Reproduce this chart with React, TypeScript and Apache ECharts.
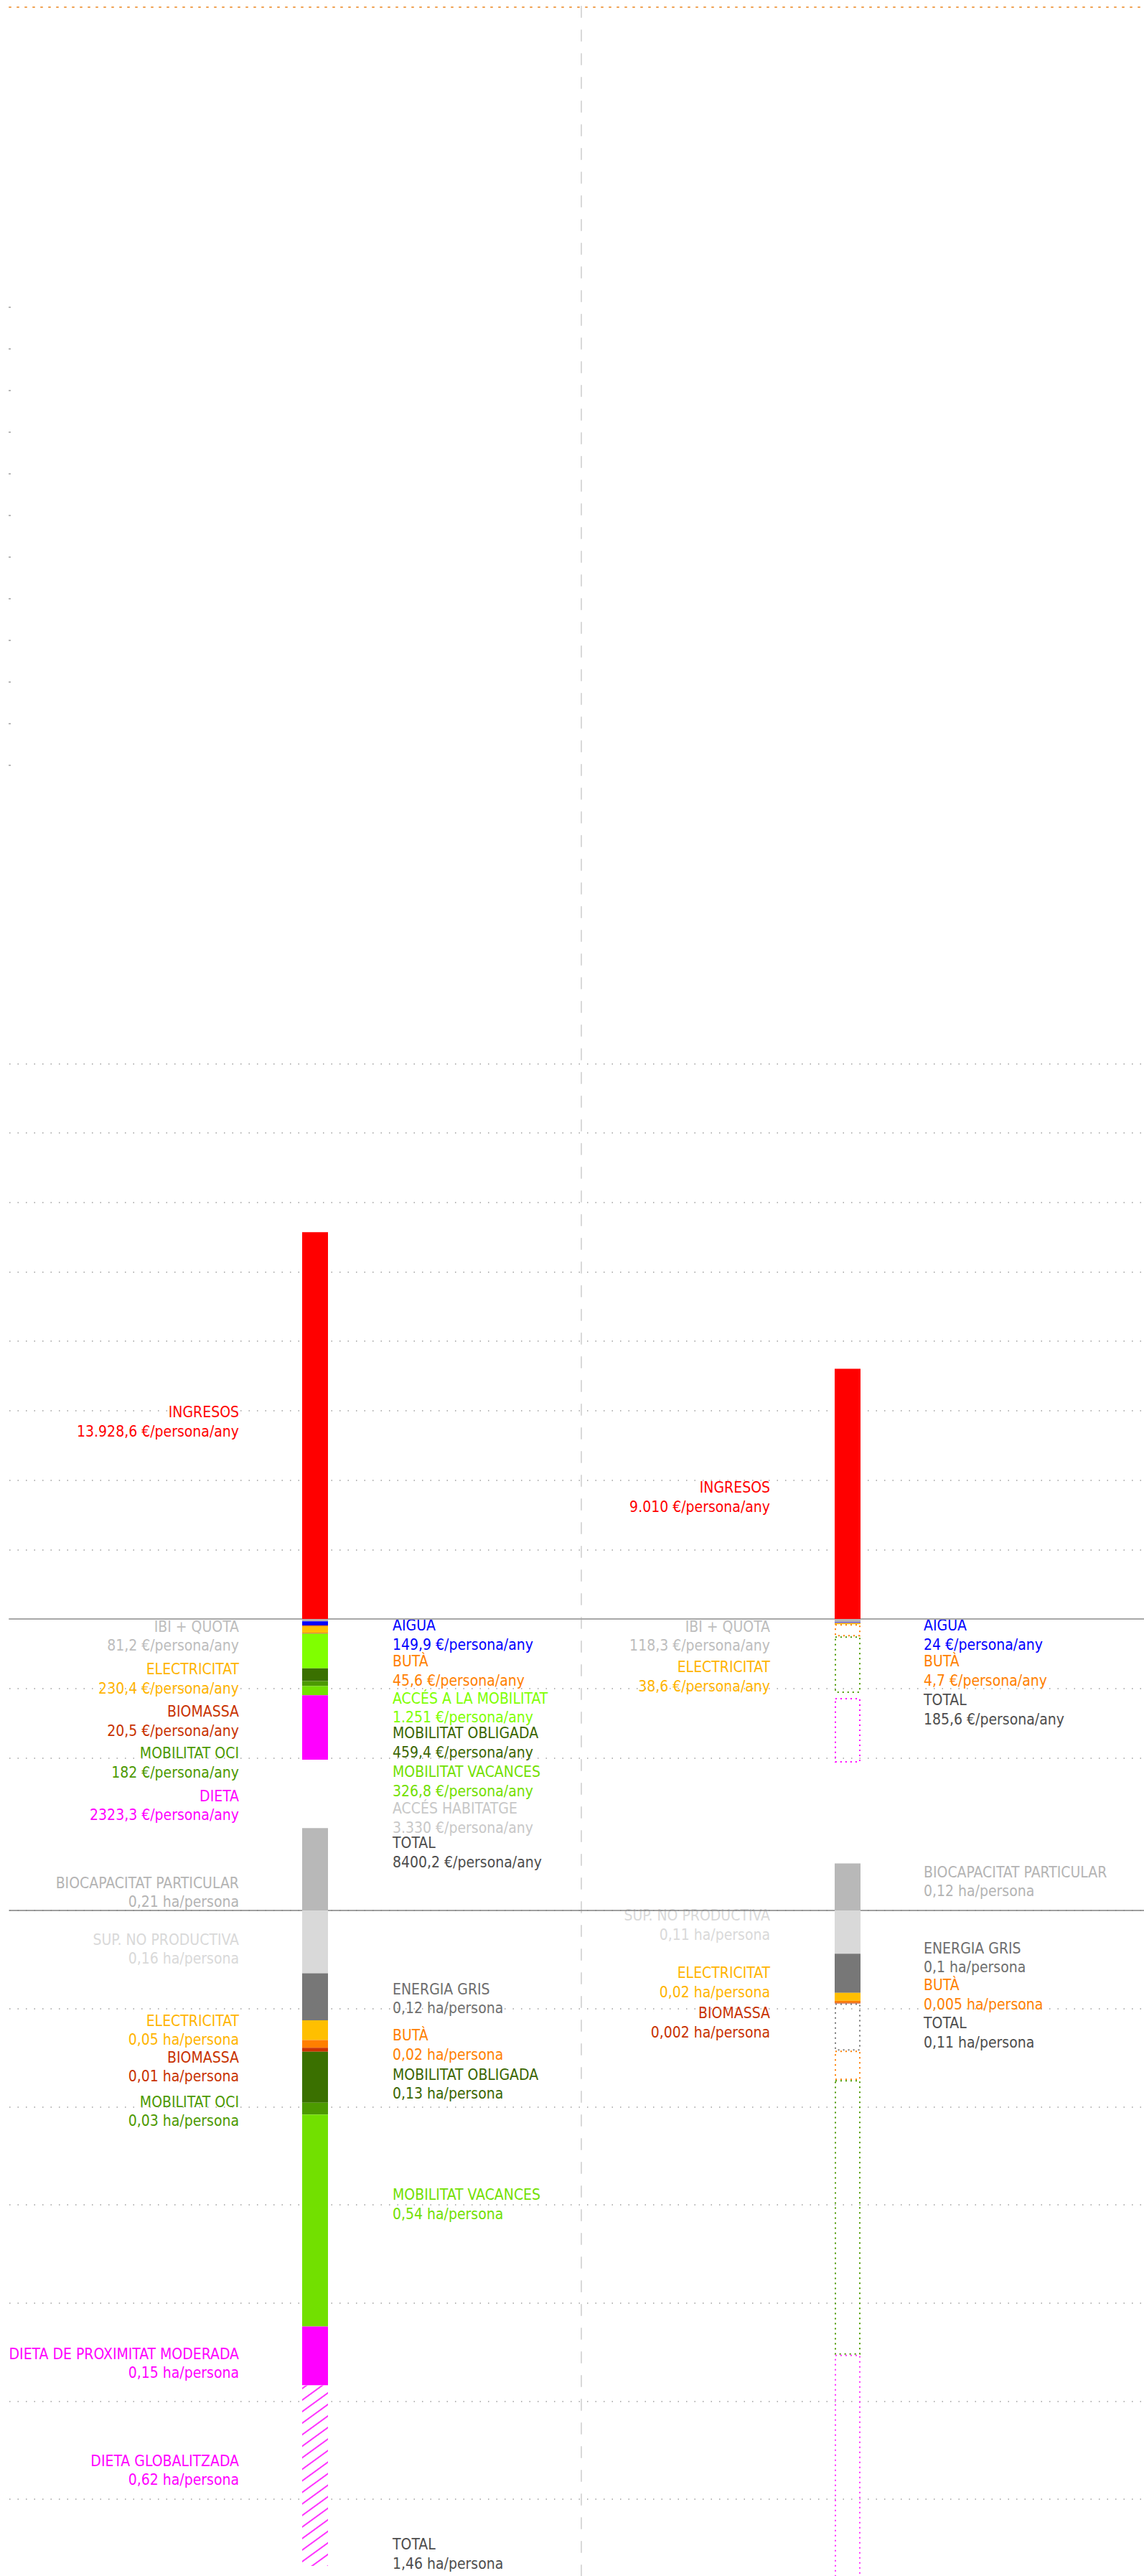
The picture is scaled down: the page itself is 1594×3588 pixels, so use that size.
import React, { useEffect, useRef } from "react";
import * as echarts from "echarts";

const W = 1594;
const H = 3588;

// ---------- categories ----------
const scenarios = ["Situació actual", "Proposta"];

// ---------- € / persona / any (upper panel) ----------
const ingresos = [13928.6, 9010];
const ibiQuota = [81.2, 118.3];
const aigua = [149.9, 24];
const buta = [45.6, 4.7];
const electricitat = [230.4, 38.6];
const biomassa = [20.5, null];
const accesMobilitat = [1251, null];
const mobilitatObligada = [459.4, null];
const mobilitatOci = [182, null];
const mobilitatVacances = [326.8, null];
const dieta = [2323.3, null];
// ghost (dotted) segments of the proposal bar
const estalviEnergia = [null, 440];
const estalviMobilitat = [null, 2037];
const estalviOci = [null, 182];
const estalviDieta = [null, 2323.3];

// ---------- ha / persona (lower panel) ----------
const biocapacitat = [0.21, 0.12];
const supNoProductiva = [0.16, 0.11];
const energiaGris = [0.12, 0.1];
const electricitatHa = [0.05, 0.02];
const butaHa = [0.02, 0.005];
const biomassaHa = [0.01, 0.002];
const mobObligadaHa = [0.13, null];
const mobOciHa = [0.03, null];
const mobVacancesHa = [0.54, null];
const dietaProximitat = [0.15, null];
const dietaGlobalitzada = [0.46, null];
const estalviEnergiaGrisHa = [null, 0.12];
const estalviEnergiaHa = [null, 0.075];
const estalviMobilitatHa = [null, 0.7];
const estalviDietaHa = [null, 0.62];

// ---------- axis ranges ----------
const eurAxis = { min: -5000, max: 20000, interval: 2500 };
const haAxis = { min: -1.5, max: 0, interval: 0.25 };
const sideTicks = { min: 0, max: 11, interval: 1 };

// ---------- label texts ----------
const lblA_left = [
  ["INGRESOS", "13.928,6 €/persona/any", "#ff0000"],
  ["IBI + QUOTA", "81,2 €/persona/any", "#bdbdbd"],
  ["ELECTRICITAT", "230,4 €/persona/any", "#ffb400"],
  ["BIOMASSA", "20,5 €/persona/any", "#c83200"],
  ["MOBILITAT OCI", "182 €/persona/any", "#4c9900"],
  ["DIETA", "2323,3 €/persona/any", "#ff00ff"],
  ["BIOCAPACITAT PARTICULAR", "0,21 ha/persona", "#b4b4b4"],
  ["SUP. NO PRODUCTIVA", "0,16 ha/persona", "#d9d9d9"],
  ["ELECTRICITAT", "0,05 ha/persona", "#ffb400"],
  ["BIOMASSA", "0,01 ha/persona", "#c83200"],
  ["MOBILITAT OCI", "0,03 ha/persona", "#4c9900"],
  ["DIETA DE PROXIMITAT MODERADA", "0,15 ha/persona", "#ff00ff"],
  ["DIETA GLOBALITZADA", "0,62 ha/persona", "#ff00ff"],
];
const lblA_right = [
  ["AIGUA", "149,9 €/persona/any", "#0000ff"],
  ["BUTÀ", "45,6 €/persona/any", "#ff7f00"],
  ["ACCÉS A LA MOBILITAT", "1.251 €/persona/any", "#80ff00"],
  ["MOBILITAT OBLIGADA", "459,4 €/persona/any", "#3a6600"],
  ["MOBILITAT VACANCES", "326,8 €/persona/any", "#72e000"],
  ["ACCÉS HABITATGE", "3.330 €/persona/any", "#c8c8c8"],
  ["TOTAL", "8400,2 €/persona/any", "#4d4d4d"],
  ["ENERGIA GRIS", "0,12 ha/persona", "#6e6e6e"],
  ["BUTÀ", "0,02 ha/persona", "#ff7f00"],
  ["MOBILITAT OBLIGADA", "0,13 ha/persona", "#3a6600"],
  ["MOBILITAT VACANCES", "0,54 ha/persona", "#72e000"],
  ["TOTAL", "1,46 ha/persona", "#4d4d4d"],
];
const lblB_left = [
  ["INGRESOS", "9.010 €/persona/any", "#ff0000"],
  ["IBI + QUOTA", "118,3 €/persona/any", "#bdbdbd"],
  ["ELECTRICITAT", "38,6 €/persona/any", "#ffb400"],
  ["SUP. NO PRODUCTIVA", "0,11 ha/persona", "#d9d9d9"],
  ["ELECTRICITAT", "0,02 ha/persona", "#ffb400"],
  ["BIOMASSA", "0,002 ha/persona", "#c83200"],
];
const lblB_right = [
  ["AIGUA", "24 €/persona/any", "#0000ff"],
  ["BUTÀ", "4,7 €/persona/any", "#ff7f00"],
  ["TOTAL", "185,6 €/persona/any", "#4d4d4d"],
  ["BIOCAPACITAT PARTICULAR", "0,12 ha/persona", "#b4b4b4"],
  ["ENERGIA GRIS", "0,1 ha/persona", "#6e6e6e"],
  ["BUTÀ", "0,005 ha/persona", "#ff7f00"],
  ["TOTAL", "0,11 ha/persona", "#4d4d4d"],
];

// ---------- layout (pixels) ----------
const posA_left = [1967, 2265.7, 2325, 2384, 2442, 2501.7, 2622.5, 2701.7, 2814.6, 2865.5, 2927.5, 3278.6, 3427.5];
const posA_right = [2264, 2314, 2365.7, 2414, 2468, 2519, 2567, 2770.6, 2835, 2889.6, 3057, 3544.4];
const posB_left = [2072.3, 2265.7, 2322, 2668.2, 2748, 2804];
const posB_right = [2264, 2314, 2368, 2607.7, 2713.5, 2765, 2818.4];

const EUR_TOP = 1481.4;
const EUR_H = 967;
const HA_TOP = 2661;
const HA_H = 820;
const BAR_LEFT = 68;
const BAR_W = 1484;
const FONT = "'DejaVu Sans Condensed', 'DejaVu Sans', sans-serif";
const FS = 21;
const LINE = 26.5;

const neg = (a: (number | null)[]) => a.map((v) => (v == null ? null : -v));

function solidBar(name: string, data: (number | null)[], color: string, stack: string, idx: number, extra: any = {}) {
  return {
    type: "bar",
    name,
    stack,
    xAxisIndex: idx,
    yAxisIndex: idx,
    data,
    barWidth: 36,
    clip: false,
    silent: true,
    itemStyle: { color, ...extra },
  };
}
function ghostBar(name: string, data: (number | null)[], color: string, stack: string, idx: number) {
  return {
    type: "bar",
    name,
    stack,
    xAxisIndex: idx,
    yAxisIndex: idx,
    data,
    barWidth: 36,
    clip: false,
    silent: true,
    itemStyle: {
      color: "rgba(255,255,255,0)",
      borderColor: color,
      borderWidth: 2,
      borderType: [2, 5],
    },
  };
}

function labelTexts(items: string[][], ys: number[], x: number, align: "left" | "right") {
  const out: any[] = [];
  items.forEach((it, i) => {
    [it[0], it[1]].forEach((t, k) => {
      out.push({
        type: "text",
        x,
        y: ys[i] + k * LINE,
        silent: true,
        style: {
          text: t,
          fill: it[2],
          fontSize: FS,
          fontFamily: FONT,
          align,
          verticalAlign: "middle",
          textAlign: align,
          textVerticalAlign: "middle",
        },
      });
    });
  });
  return out;
}

const hidden = { show: false };

function buildOption() {
  const grids = [
    { left: 13, right: 0, top: EUR_TOP, height: EUR_H }, // 0 upper background
    { left: BAR_LEFT, width: BAR_W, top: EUR_TOP, height: EUR_H }, // 1 upper bars
    { left: 13, right: 0, top: HA_TOP, height: HA_H }, // 2 lower background
    { left: BAR_LEFT, width: BAR_W, top: HA_TOP, height: HA_H }, // 3 lower bars
    { left: 13, right: 0, top: 9, height: 1 }, // 4 top orange rule
    { left: 15, width: 1, top: 428, height: 638 }, // 5 left tick marks
    { left: 810, width: 1, top: 0, height: H }, // 6 vertical divider
  ];
  const xAxis: any[] = [
    {
      gridIndex: 0, type: "value", min: 0, max: 1,
      axisLine: { show: true, onZero: true, lineStyle: { color: "#a8a8a8", width: 2 } },
      axisTick: hidden, axisLabel: hidden, splitLine: hidden,
    },
    { gridIndex: 1, type: "category", data: scenarios, show: false },
    {
      gridIndex: 2, type: "value", min: 0, max: 1,
      axisLine: { show: true, onZero: true, lineStyle: { color: "#808080", width: 1.5 } },
      axisTick: hidden, axisLabel: hidden, splitLine: hidden,
    },
    { gridIndex: 3, type: "category", data: scenarios, show: false },
    {
      gridIndex: 4, type: "value", min: 0, max: 1, position: "bottom",
      axisLine: { show: true, onZero: false, lineStyle: { color: "#f0a050", width: 2, type: [2, 9] } },
      axisTick: hidden, axisLabel: hidden, splitLine: hidden,
    },
    { gridIndex: 5, type: "value", min: 0, max: 1, show: false },
    { gridIndex: 6, type: "value", min: 0, max: 1, show: false },
  ];
  const yAxis: any[] = [
    {
      gridIndex: 0, type: "value", ...eurAxis,
      axisLine: hidden, axisTick: hidden, axisLabel: hidden,
      splitLine: { show: true, lineStyle: { color: "#a0a0a0", width: 1.5, type: [1.5, 10] } },
    },
    { gridIndex: 1, type: "value", ...eurAxis, show: false, splitLine: hidden },
    {
      gridIndex: 2, type: "value", ...haAxis,
      axisLine: hidden, axisTick: hidden, axisLabel: hidden,
      splitLine: { show: true, lineStyle: { color: "#a0a0a0", width: 1.5, type: [1.5, 10] } },
    },
    { gridIndex: 3, type: "value", ...haAxis, show: false, splitLine: hidden },
    { gridIndex: 4, type: "value", min: 0, max: 1, show: false },
    {
      gridIndex: 5, type: "value", ...sideTicks,
      axisLine: hidden, axisLabel: hidden, splitLine: hidden,
      axisTick: { show: true, length: 3, lineStyle: { color: "#b8b8b8", width: 2 } },
    },
    {
      gridIndex: 6, type: "value", min: 0, max: 1,
      axisLine: { show: true, onZero: false, lineStyle: { color: "#d9d9d9", width: 2, type: [15, 18] } },
      axisTick: hidden, axisLabel: hidden, splitLine: hidden,
    },
  ];

  const series: any[] = [
    // upper panel
    solidBar("INGRESOS", ingresos, "#ff0000", "eur", 1),
    solidBar("IBI + QUOTA", neg(ibiQuota), "#b4b4b4", "eur", 1),
    solidBar("AIGUA", neg(aigua), "#0000ff", "eur", 1),
    solidBar("BUTÀ", neg(buta), "#ff7f00", "eur", 1),
    solidBar("ELECTRICITAT", neg(electricitat), "#ffbf00", "eur", 1),
    solidBar("BIOMASSA", neg(biomassa), "#cc3300", "eur", 1),
    solidBar("ACCÉS A LA MOBILITAT", neg(accesMobilitat), "#80ff00", "eur", 1),
    solidBar("MOBILITAT OBLIGADA", neg(mobilitatObligada), "#3a7000", "eur", 1),
    solidBar("MOBILITAT OCI", neg(mobilitatOci), "#4c9a00", "eur", 1),
    solidBar("MOBILITAT VACANCES", neg(mobilitatVacances), "#72e000", "eur", 1),
    solidBar("DIETA", neg(dieta), "#ff00ff", "eur", 1),
    ghostBar("estalvi energia", neg(estalviEnergia), "#ff7f00", "eur", 1),
    ghostBar("estalvi mobilitat", neg(estalviMobilitat), "#4c9a00", "eur", 1),
    {
      type: "bar", name: "estalvi oci", stack: "eur", xAxisIndex: 1, yAxisIndex: 1,
      data: neg(estalviOci), barWidth: 36, clip: false, silent: true,
      itemStyle: { color: "rgba(255,255,255,0)" },
    },
    ghostBar("estalvi dieta", neg(estalviDieta), "#ff00ff", "eur", 1),
    // lower panel
    solidBar("BIOCAPACITAT PARTICULAR", biocapacitat, "#b8b8b8", "ha", 3),
    solidBar("SUP. NO PRODUCTIVA", neg(supNoProductiva), "#d9d9d9", "ha", 3),
    solidBar("ENERGIA GRIS", neg(energiaGris), "#777777", "ha", 3),
    solidBar("ELECTRICITAT ha", neg(electricitatHa), "#ffbf00", "ha", 3),
    solidBar("BUTÀ ha", neg(butaHa), "#ff7f00", "ha", 3),
    solidBar("BIOMASSA ha", neg(biomassaHa), "#cc3300", "ha", 3),
    solidBar("MOBILITAT OBLIGADA ha", neg(mobObligadaHa), "#3a7000", "ha", 3),
    solidBar("MOBILITAT OCI ha", neg(mobOciHa), "#4c9a00", "ha", 3),
    solidBar("MOBILITAT VACANCES ha", neg(mobVacancesHa), "#72e000", "ha", 3),
    solidBar("DIETA DE PROXIMITAT MODERADA", neg(dietaProximitat), "#ff00ff", "ha", 3),
    solidBar("DIETA GLOBALITZADA", neg(dietaGlobalitzada), "#ffffff", "ha", 3, {
      decal: {
        symbol: "rect",
        symbolSize: 1,
        color: "#ff33ff",
        backgroundColor: "#ffffff",
        dashArrayX: [1, 0],
        dashArrayY: [1.5, 10.5],
        rotation: -Math.PI / 5,
      },
    }),
    ghostBar("estalvi energia gris", neg(estalviEnergiaGrisHa), "#777777", "ha", 3),
    ghostBar("estalvi energia ha", neg(estalviEnergiaHa), "#ff7f00", "ha", 3),
    ghostBar("estalvi mobilitat ha", neg(estalviMobilitatHa), "#4c9a00", "ha", 3),
    ghostBar("estalvi dieta ha", neg(estalviDietaHa), "#ff33ff", "ha", 3),
  ];

  const graphic = [
    ...labelTexts(lblA_left, posA_left, 333, "right"),
    ...labelTexts(lblA_right, posA_right, 547, "left"),
    ...labelTexts(lblB_left, posB_left, 1073, "right"),
    ...labelTexts(lblB_right, posB_right, 1287, "left"),
  ];

  return {
    animation: false,
    backgroundColor: "#ffffff",
    grid: grids,
    xAxis,
    yAxis,
    series,
    graphic,
  };
}

export default function App() {
  const ref = useRef<HTMLDivElement>(null);
  useEffect(() => {
    document.body.style.margin = "0";
    const chart = echarts.init(ref.current as HTMLDivElement, null, { renderer: "svg" });
    chart.setOption(buildOption() as any);
    return () => chart.dispose();
  }, []);
  return <div ref={ref} style={{ width: W, height: H, background: "#fff" }} />;
}
